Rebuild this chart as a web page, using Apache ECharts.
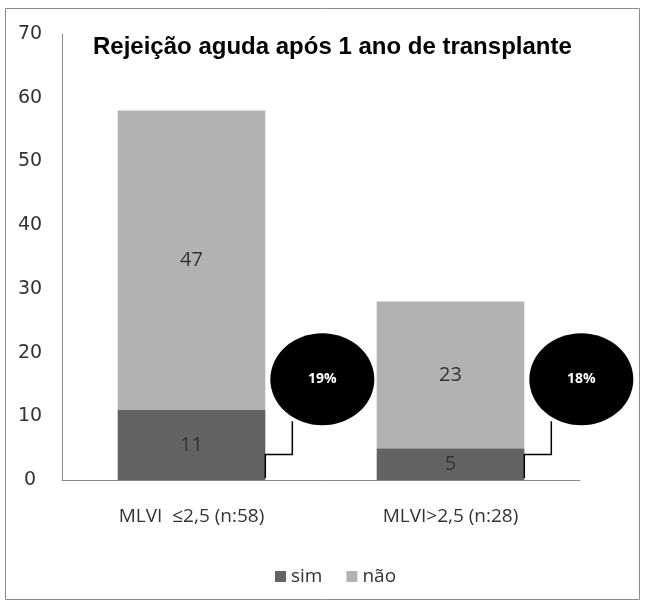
<!DOCTYPE html>
<html>
<head>
<meta charset="utf-8">
<script src="https://cdn.jsdelivr.net/npm/echarts@6/dist/echarts.min.js"></script>
<style>
html,body{margin:0;padding:0;background:#fff;}
#c{width:646px;height:605px;}
</style>
</head>
<body>
<div id="c"></div>
<script>
const titleText = 'Rejeição aguda após 1 ano de transplante';
const categories = ['MLVI  ≤2,5 (n:58)', 'MLVI>2,5 (n:28)'];
const seriesNames = ['sim', 'não'];
const simValues = [11, 5];
const naoValues = [47, 23];
const calloutLabels = ['19%', '18%'];
const yMin = 0, yMax = 70, yInterval = 10;

const chart = echarts.init(document.getElementById('c'), null, {renderer: 'canvas'});
const labelStyle = {show: true, position: 'inside', color: '#333', fontSize: 20, fontFamily: 'Open Sans'};
chart.setOption({
  animation: false,
  backgroundColor: '#fff',
  title: {
    text: titleText, left: 88, top: 30,
    textStyle: {fontFamily: 'Liberation Sans', fontWeight: 'bold', fontSize: 24, color: '#000'}
  },
  legend: {
    data: seriesNames, left: 270, top: 562, icon: 'rect', itemWidth: 11, itemHeight: 11, itemGap: 24,
    textStyle: {fontFamily: 'Open Sans', fontSize: 19, color: '#333'}
  },
  grid: {left: 62, right: 66, top: 34, bottom: 125},
  xAxis: {
    type: 'category', data: categories,
    axisLine: {lineStyle: {color: '#888', width: 1}},
    axisTick: {show: false},
    axisLabel: {color: '#333', fontSize: 19, fontFamily: 'Open Sans', margin: 27}
  },
  yAxis: {
    type: 'value', min: yMin, max: yMax, interval: yInterval,
    axisLine: {show: true, lineStyle: {color: '#888', width: 1}},
    axisTick: {show: false},
    splitLine: {show: false},
    axisLabel: {color: '#333', fontSize: 19, fontFamily: 'DejaVu Sans', align: 'center', margin: 32}
  },
  series: [
    {name: seriesNames[0], type: 'bar', stack: 's', data: simValues, barWidth: '57%',
     itemStyle: {color: '#636363'}, label: labelStyle},
    {name: seriesNames[1], type: 'bar', stack: 's', data: naoValues, barWidth: '57%',
     itemStyle: {color: '#b2b2b2'}, label: labelStyle}
  ]
});

// callouts
const c0 = chart.convertToPixel({xAxisIndex: 0}, 0);
const c1 = chart.convertToPixel({xAxisIndex: 0}, 1);
const band = c1 - c0;
const half = band * 0.57 / 2;
const yPx = v => chart.convertToPixel({yAxisIndex: 0}, v);
const elems = [{
  type: 'rect', shape: {x: 5.5, y: 8.5, width: 634, height: 591},
  style: {fill: 'none', stroke: '#8c8c8c', lineWidth: 1}, z: 100
}];
categories.forEach((cat, i) => {
  const cx = chart.convertToPixel({xAxisIndex: 0}, i);
  const right = cx + half;
  const ey = yPx(15.8);
  const ex = right + 57;
  const rx = 52, ry = 46;
  elems.push({
    type: 'polyline',
    shape: {points: [[right, yPx(0) - 2], [right, yPx(4)], [right + 27, yPx(4)], [right + 27, ey + ry - 4]]},
    style: {stroke: '#000', lineWidth: 1.5, fill: null}, z: 10
  });
  elems.push({
    type: 'circle', x: ex, y: ey, scaleX: rx / ry, scaleY: 1,
    shape: {cx: 0, cy: 0, r: ry}, style: {fill: '#000'}, z: 11
  });
  elems.push({
    type: 'text', x: ex, y: ey,
    style: {text: calloutLabels[i], fill: '#fff', font: 'bold 14px "Open Sans"', textAlign: 'center', textVerticalAlign: 'middle'}, z: 12
  });
});
chart.setOption({graphic: elems});
</script>
</body>
</html>
